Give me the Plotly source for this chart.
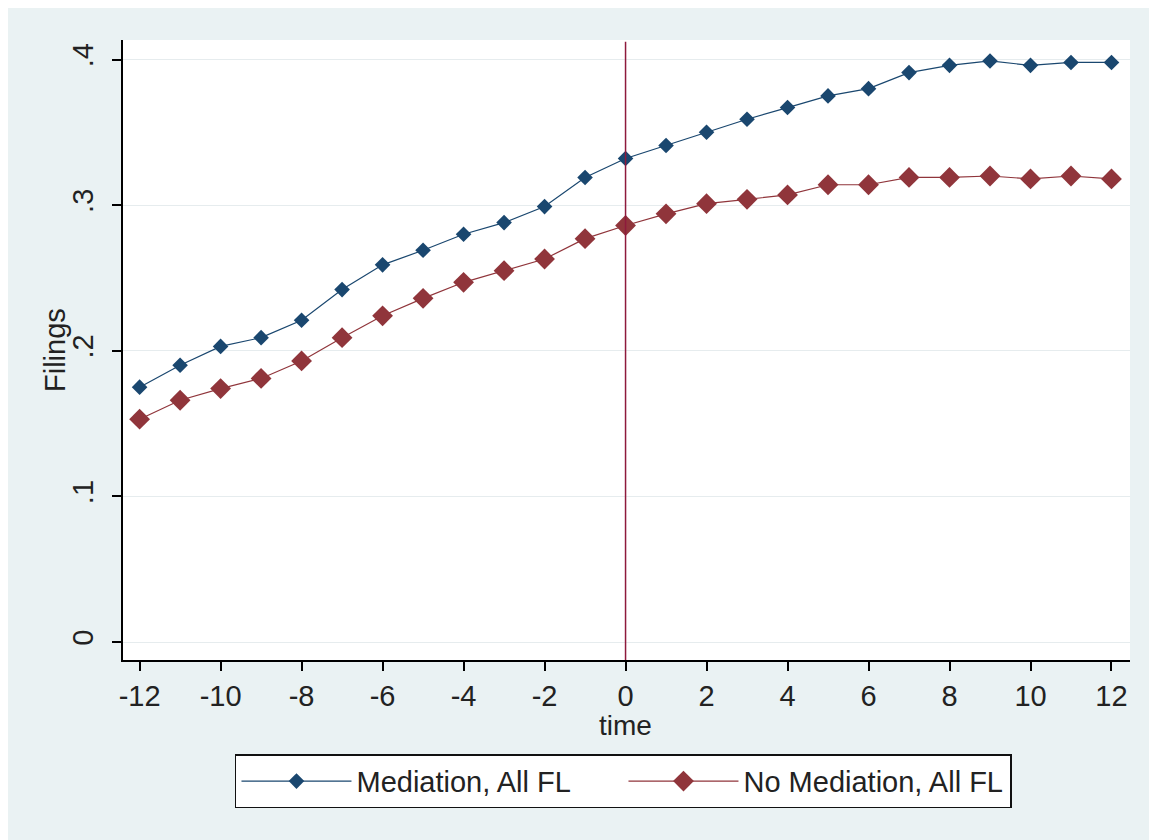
import plotly.graph_objects as go

time = list(range(-12, 13))
mediation = [0.175, 0.190, 0.203, 0.209, 0.221, 0.242, 0.259, 0.269, 0.280, 0.288,
             0.299, 0.319, 0.332, 0.341, 0.350, 0.359, 0.367, 0.375, 0.380, 0.391,
             0.396, 0.399, 0.396, 0.398, 0.398]
no_mediation = [0.153, 0.166, 0.174, 0.181, 0.193, 0.209, 0.224, 0.236, 0.247, 0.255,
                0.263, 0.277, 0.286, 0.294, 0.301, 0.304, 0.307, 0.314, 0.314, 0.319,
                0.319, 0.320, 0.318, 0.320, 0.318]
y_ticks = [0, 0.1, 0.2, 0.3, 0.4]
y_labels = ["0", ".1", ".2", ".3", ".4"]
x_ticks = list(range(-12, 13, 2))
x_labels = [str(v) for v in x_ticks]  # plain hyphen minus as in the reference

BLUE = "#1a476f"
RED = "#90353b"
XLINE = "#8e1a3c"
BG = "#eaf2f3"
FONT = "Liberation Sans, Arial, sans-serif"
FS = 29

fig = go.Figure()
fig.add_trace(go.Scatter(
    x=time, y=mediation, mode="lines+markers", name="Mediation, All FL",
    line=dict(color=BLUE, width=1.2),
    marker=dict(symbol="diamond", size=12, color=BLUE),
))
fig.add_trace(go.Scatter(
    x=time, y=no_mediation, mode="lines+markers", name="No Mediation, All FL",
    line=dict(color=RED, width=1.2),
    marker=dict(symbol="diamond", size=16, color=RED),
))

# vertical reference line at time 0
fig.add_shape(type="line", xref="x", yref="y domain", x0=0, x1=0, y0=0, y1=0.997,
              line=dict(color=XLINE, width=1.5))

# axis titles
fig.add_annotation(text="Filings", xref="paper", yref="paper", x=-0.0675, y=0.5,
                   textangle=-90, showarrow=False, xanchor="center", yanchor="middle",
                   font=dict(family=FONT, size=FS, color="#222222"))
fig.add_annotation(text="time", xref="x", yref="paper", x=0, y=-0.105,
                   showarrow=False, xanchor="center", yanchor="middle",
                   font=dict(family=FONT, size=FS - 1, color="#222222"))

fig.update_layout(
    width=1157, height=840,
    margin=dict(l=115, r=35, t=32, b=188, autoexpand=False),
    paper_bgcolor=BG,
    plot_bgcolor="white",
    font=dict(family=FONT, size=FS, color="#222222"),
    showlegend=True,
    legend=dict(
        orientation="h", x=0.497, xanchor="center", y=-0.152, yanchor="top",
        bgcolor="white", bordercolor="#111111", borderwidth=1.5,
        font=dict(family=FONT, size=FS, color="#222222"),
        entrywidth=262, entrywidthmode="pixels",
        itemwidth=110,
    ),
)

fig.update_xaxes(
    range=[-12.41, 12.457], tickvals=x_ticks, ticktext=x_labels,
    showline=True, linecolor="black", linewidth=1.5,
    ticks="outside", ticklen=9, tickwidth=1.5, tickcolor="black",
    showgrid=False, zeroline=False, automargin=False,
    tickfont=dict(family=FONT, size=FS),
)
fig.update_yaxes(
    range=[-0.01236, 0.4134], tickvals=y_ticks, ticktext=y_labels, tickangle=-90,
    showline=True, linecolor="black", linewidth=1.5,
    ticks="outside", ticklen=9, tickwidth=1.5, tickcolor="black",
    showgrid=True, gridcolor="#e6ecee", gridwidth=1, zeroline=False,
    automargin=False, ticklabelstandoff=8,
    tickfont=dict(family=FONT, size=FS),
)

fig.write_html("out.html")
